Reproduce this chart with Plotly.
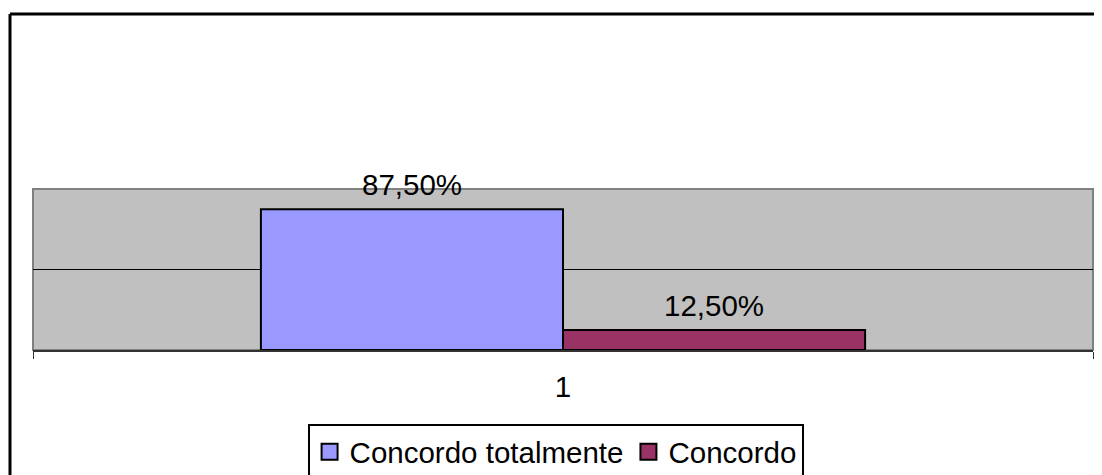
import plotly.graph_objects as go

categories = ["1"]
series_names = ["Concordo totalmente", "Concordo"]
series_values = [[87.5], [12.5]]
series_colors = ["#9999FF", "#993366"]

FONT = "Arial, 'Liberation Sans', sans-serif"
FS = 29.5
BARGAP = 0.43

fig = go.Figure()
for name, vals, col in zip(series_names, series_values, series_colors):
    fig.add_trace(go.Bar(
        x=categories, y=vals, name=name, showlegend=False,
        marker=dict(color=col, line=dict(color="black", width=2)),
    ))
# legend entries (square swatches)
for name, col in zip(series_names, series_colors):
    fig.add_trace(go.Scatter(
        x=[None], y=[None], mode="markers", name=name,
        marker=dict(symbol="square", size=16, color=col, line=dict(color="black", width=2)),
    ))

# data labels above each bar
n = len(series_names)
w = (1 - BARGAP) / n
for i, vals in enumerate(series_values):
    for j, v in enumerate(vals):
        fig.add_annotation(
            x=j - (1 - BARGAP) / 2 + w * (i + 0.5), y=v, xref="x", yref="y",
            text=("%.2f%%" % v).replace(".", ","),
            showarrow=False, yanchor="bottom", yshift=6,
            font=dict(family=FONT, size=FS, color="black"),
        )

fig.update_layout(
    width=1094, height=467,
    margin=dict(l=25, r=9, t=181, b=125, autoexpand=False),
    paper_bgcolor="white",
    plot_bgcolor="#C0C0C0",
    barmode="group",
    bargap=BARGAP,
    bargroupgap=0,
    font=dict(family=FONT, size=FS, color="black"),
    showlegend=True,
    legend=dict(
        orientation="h",
        x=0.493, xanchor="center",
        y=-0.46, yanchor="top",
        bordercolor="black", borderwidth=2,
        font=dict(family=FONT, size=FS, color="black"),
        itemsizing="trace",
        tracegroupgap=0,
    ),
)

fig.update_xaxes(
    type="category",
    showline=True, linecolor="#333333", linewidth=2,
    ticks="outside", tickson="boundaries", ticklen=7, tickcolor="#333333",
    tickfont=dict(family=FONT, size=FS, color="black"),
    ticklabelstandoff=10,
    showgrid=False,
)
fig.update_yaxes(
    range=[0, 100],
    dtick=50,
    showticklabels=False,
    showgrid=True, gridcolor="black", gridwidth=1,
    zeroline=False,
    ticks="",
)

# plot-area frame (gray)
fig.add_shape(type="rect", xref="paper", yref="paper", x0=0, x1=1, y0=0, y1=1,
              line=dict(color="#808080", width=2), fillcolor="rgba(0,0,0,0)", layer="below")
# outer chart frame (top and left edges visible)
fig.add_shape(type="line", xref="paper", yref="paper",
              x0=-0.0217, x1=1.2, y0=2.087, y1=2.087,
              line=dict(color="black", width=3))
fig.add_shape(type="line", xref="paper", yref="paper",
              x0=-0.0217, x1=-0.0217, y0=2.087, y1=-1.0,
              line=dict(color="black", width=3))

fig.write_html("out.html")
